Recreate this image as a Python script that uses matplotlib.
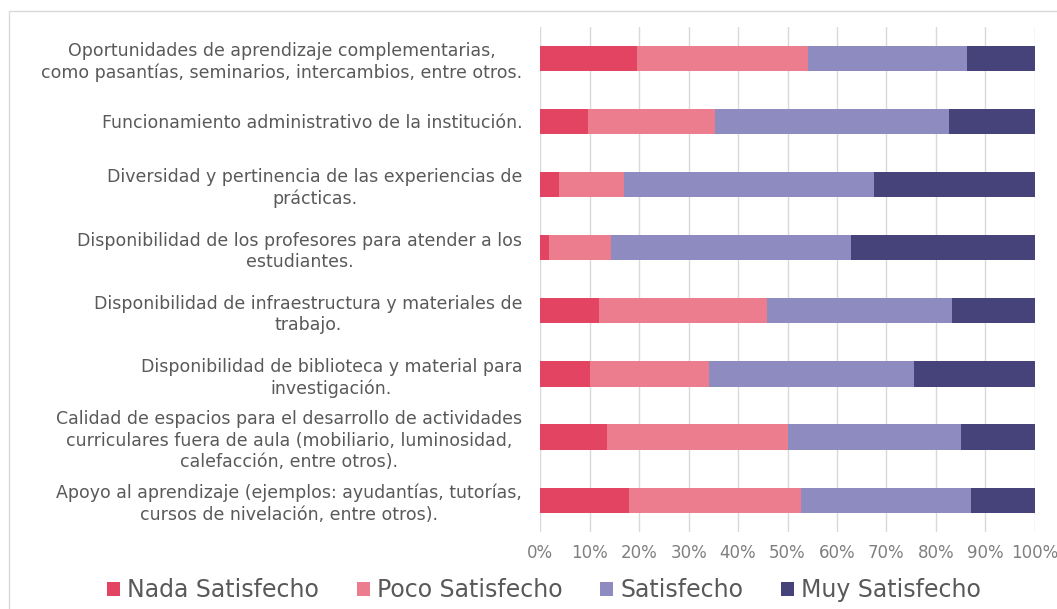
import matplotlib.pyplot as plt
from matplotlib.patches import Rectangle

# categorías (de arriba hacia abajo)
categorias = [
    'Oportunidades de aprendizaje complementarias,\ncomo pasantías, seminarios, intercambios, entre otros.',
    'Funcionamiento administrativo de la institución.',
    'Diversidad y pertinencia de las experiencias de\nprácticas.',
    'Disponibilidad de los profesores para atender a los\nestudiantes.',
    'Disponibilidad de infraestructura y materiales de\ntrabajo.',
    'Disponibilidad de biblioteca y material para\ninvestigación.',
    'Calidad de espacios para el desarrollo de actividades\ncurriculares fuera de aula (mobiliario, luminosidad,\ncalefacción, entre otros).',
    'Apoyo al aprendizaje (ejemplos: ayudantías, tutorías,\ncursos de nivelación, entre otros).',
]

# porcentajes
nada = [19.6, 9.6, 3.7, 1.8, 11.8, 10.0, 13.5, 17.9]
poco = [34.5, 25.7, 13.2, 12.6, 34.1, 24.2, 36.7, 34.8]
satisfecho = [32.3, 47.4, 50.6, 48.4, 37.4, 41.4, 34.8, 34.5]
muy = [13.6, 17.3, 32.5, 37.2, 16.7, 24.4, 15.0, 12.8]

series = ['Nada Satisfecho', 'Poco Satisfecho', 'Satisfecho', 'Muy Satisfecho']
colores = ['#E34461', '#EC7D8F', '#8E8BC0', '#46437A']
ticks = [0, 10, 20, 30, 40, 50, 60, 70, 80, 90, 100]

gris = '#595959'
fig = plt.figure(figsize=(10.57, 6.09), dpi=100)
ax = fig.add_axes([540.3 / 1057, 1 - 531.8 / 609, 494.4 / 1057, 505 / 609])

y = list(range(len(categorias)))
izq = [0] * len(categorias)
for nombre, vals, col in zip(series, [nada, poco, satisfecho, muy], colores):
    ax.barh(y, vals, left=izq, height=0.4, color=col, label=nombre, zorder=3)
    izq = [a + b for a, b in zip(izq, vals)]

ax.set_xlim(0, 100)
ax.set_ylim(len(categorias) - 0.5, -0.5)
ax.set_xticks(ticks)
ax.set_xticklabels([f'{t}%' for t in ticks], fontsize=12, color='#7f7f7f',
                   family='DejaVu Sans')
ax.set_yticks(y)
ax.set_yticklabels(categorias, fontsize=12.5, color=gris, family='DejaVu Sans',
                   multialignment='center', linespacing=1.25)
ax.tick_params(axis='both', length=0)
ax.tick_params(axis='y', pad=13)
ax.tick_params(axis='x', pad=9)
ax.grid(axis='x', color='#d9d9d9', linewidth=1, zorder=0)
for s in ax.spines.values():
    s.set_visible(False)

ax.legend(loc='center', bbox_to_anchor=(544 / 1057, 1 - 590 / 609),
          bbox_transform=fig.transFigure, ncol=4, frameon=False,
          prop={'family': 'DejaVu Sans', 'size': 17}, labelcolor=gris,
          handlelength=0.55, handleheight=0.55, handletextpad=0.3,
          columnspacing=1.6)

# marco exterior
fig.patches.append(Rectangle((9 / 1057, -0.1), 1.2, 1.1 - 11 / 609,
                             transform=fig.transFigure, fill=False,
                             edgecolor='#d9d9d9', linewidth=1))

fig.savefig('out.png', dpi=100)
